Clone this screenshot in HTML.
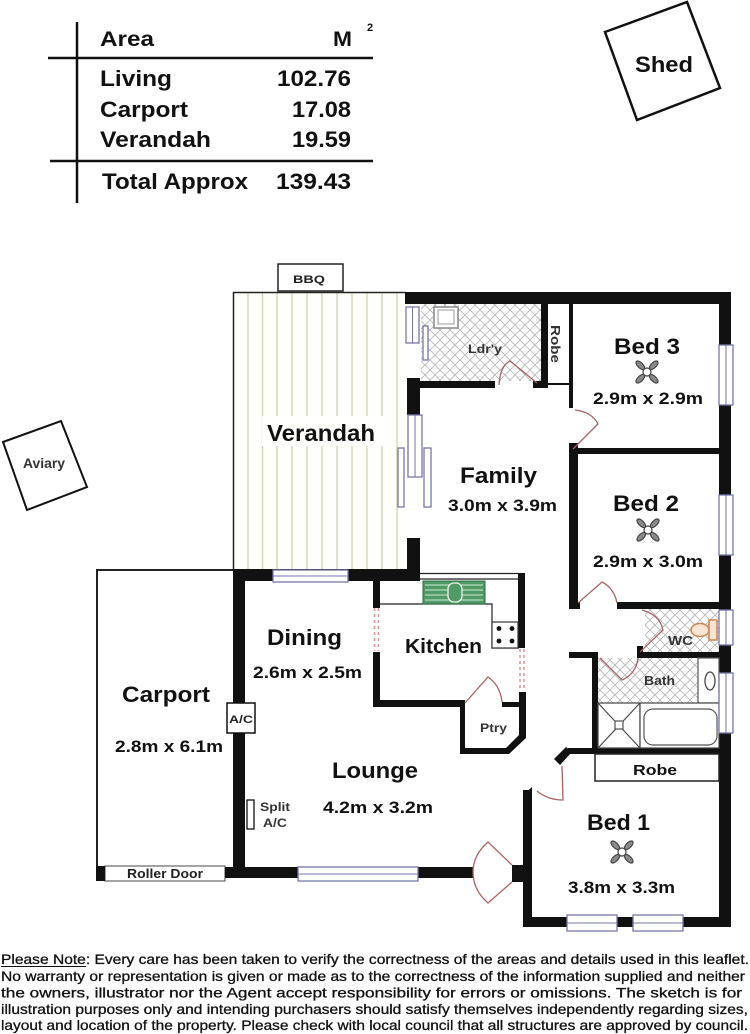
<!DOCTYPE html>
<html>
<head>
<meta charset="utf-8">
<style>
html,body{margin:0;padding:0;background:#fff;}
svg{display:block;}
</style>
</head>
<body>
<svg width="750" height="1034" viewBox="0 0 750 1034" xmlns="http://www.w3.org/2000/svg" font-family="'Liberation Sans', Arial, sans-serif">
<defs>
  <pattern id="hatch" width="10" height="10" patternUnits="userSpaceOnUse">
    <rect width="10" height="10" fill="#fff"/>
    <path d="M0,0 L10,10 M10,0 L0,10" stroke="#b8b8b8" stroke-width="0.9"/>
  </pattern>
  <g id="fan">
    <g fill="#8a8a8a" stroke="#444" stroke-width="1.2">
      <ellipse cx="9.5" cy="0" rx="5.5" ry="2.6" transform="rotate(45)"/>
      <ellipse cx="9.5" cy="0" rx="5.5" ry="2.6" transform="rotate(135)"/>
      <ellipse cx="9.5" cy="0" rx="5.5" ry="2.6" transform="rotate(225)"/>
      <ellipse cx="9.5" cy="0" rx="5.5" ry="2.6" transform="rotate(315)"/>
    </g>
    <circle cx="0" cy="0" r="4" fill="#fff" stroke="#444" stroke-width="1.2"/>
  </g>
</defs>
<rect width="750" height="1034" fill="#fff"/>

<!-- ===== Area table ===== -->
<g stroke="#111" stroke-width="2.5">
  <line x1="77" y1="22" x2="77" y2="203"/>
  <line x1="48" y1="58" x2="373" y2="58"/>
  <line x1="50" y1="161" x2="373" y2="161"/>
</g>
<g font-weight="bold" font-size="22" fill="#111">
  <text x="100" y="46" font-size="21" textLength="54" lengthAdjust="spacingAndGlyphs">Area</text>
  <text x="333" y="46" font-size="21" textLength="19" lengthAdjust="spacingAndGlyphs">M</text>
  <text x="367" y="31" font-size="11">2</text>
  <text x="100" y="86" textLength="72" lengthAdjust="spacingAndGlyphs">Living</text>
  <text x="277" y="86" textLength="74" lengthAdjust="spacingAndGlyphs">102.76</text>
  <text x="100" y="117" textLength="88" lengthAdjust="spacingAndGlyphs">Carport</text>
  <text x="292" y="117" textLength="59" lengthAdjust="spacingAndGlyphs">17.08</text>
  <text x="100" y="147" textLength="111" lengthAdjust="spacingAndGlyphs">Verandah</text>
  <text x="292" y="147" textLength="59" lengthAdjust="spacingAndGlyphs">19.59</text>
  <text x="102" y="189" textLength="146" lengthAdjust="spacingAndGlyphs">Total Approx</text>
  <text x="276" y="189" textLength="75" lengthAdjust="spacingAndGlyphs">139.43</text>
</g>

<!-- ===== Shed ===== -->
<polygon points="605,32 687,2 720,88 637,120" fill="#fff" stroke="#111" stroke-width="2.5"/>
<text x="635" y="72" font-size="22" font-weight="bold" fill="#111" textLength="58" lengthAdjust="spacingAndGlyphs">Shed</text>

<!-- ===== Aviary ===== -->
<polygon points="3,442 61,421 87,487 27,510" fill="#fff" stroke="#111" stroke-width="2"/>
<text x="23" y="468" font-size="13.5" font-weight="bold" fill="#333" textLength="42" lengthAdjust="spacingAndGlyphs">Aviary</text>

<!-- ===== Verandah ===== -->
<rect x="233" y="292" width="174" height="277" fill="#fffffc"/>
<g stroke="#d3d1b6" stroke-width="1.3">
  <line x1="248" y1="293" x2="248" y2="569"/>
  <line x1="262.5" y1="293" x2="262.5" y2="569"/>
  <line x1="277" y1="293" x2="277" y2="569"/>
  <line x1="292" y1="293" x2="292" y2="569"/>
  <line x1="307" y1="293" x2="307" y2="569"/>
  <line x1="322" y1="293" x2="322" y2="569"/>
  <line x1="337" y1="293" x2="337" y2="569"/>
  <line x1="352" y1="293" x2="352" y2="569"/>
  <line x1="367" y1="293" x2="367" y2="569"/>
  <line x1="382" y1="293" x2="382" y2="569"/>
  <line x1="397" y1="293" x2="397" y2="569"/>
</g>
<rect x="262" y="416" width="122" height="30" fill="#fffffc"/>
<line x1="233" y1="292.5" x2="406" y2="292.5" stroke="#222" stroke-width="1.5"/>
<line x1="233.5" y1="292" x2="233.5" y2="570" stroke="#222" stroke-width="1.5"/>

<!-- BBQ -->
<rect x="278" y="264" width="65" height="27" fill="#fff" stroke="#222" stroke-width="1.5"/>
<text x="293" y="283" font-size="11" font-weight="bold" fill="#222" textLength="32" lengthAdjust="spacingAndGlyphs">BBQ</text>

<!-- ===== Carport ===== -->
<line x1="97" y1="570" x2="234" y2="570" stroke="#222" stroke-width="2"/>
<line x1="97" y1="569" x2="97" y2="867" stroke="#222" stroke-width="2"/>
<rect x="105" y="866" width="120" height="15" fill="#fff" stroke="#666" stroke-width="1.2"/>
<text x="127" y="878" font-size="12.5" font-weight="bold" fill="#222" textLength="76" lengthAdjust="spacingAndGlyphs">Roller Door</text>

<!-- ===== Crosshatch floors ===== -->
<rect x="421" y="304" width="120" height="77" fill="url(#hatch)"/>
<rect x="645" y="609" width="74" height="43" fill="url(#hatch)"/>
<rect x="598" y="658" width="100" height="45" fill="url(#hatch)"/>

<!-- ===== Walls ===== -->
<g fill="#111">
  <rect x="405" y="292" width="326" height="12"/>
  <rect x="719" y="292" width="12" height="635"/>
  <rect x="523" y="917" width="208" height="10"/>
  <rect x="523" y="790" width="9" height="137"/>
  <polygon points="523,795 532,787 532,796 523,800"/>
  <rect x="512" y="865" width="20" height="17"/>
  <rect x="225" y="867" width="248" height="11"/>
  <rect x="96" y="866" width="9" height="15"/>
  <rect x="233" y="570" width="12" height="308"/>
  <rect x="233" y="569" width="187" height="12"/>
  <rect x="407" y="538" width="13" height="43"/>
  <rect x="407" y="378" width="13" height="37"/>
  <rect x="419" y="381" width="76" height="7"/>
  <rect x="533" y="381" width="15" height="7"/>
  <rect x="541" y="304" width="7" height="84"/>
  <rect x="569" y="304" width="4" height="104"/>
  <rect x="548" y="383" width="22" height="2"/>
  <rect x="569" y="448" width="162" height="6"/>
  <rect x="569" y="443" width="9" height="166"/>
  <rect x="617" y="602" width="114" height="7"/>
  <rect x="569" y="602" width="11" height="7"/>
  <rect x="637" y="652" width="94" height="6"/>
  <rect x="637" y="646" width="6" height="12"/>
  <rect x="569" y="652" width="29" height="6"/>
  <rect x="592" y="652" width="6" height="100"/>
  <rect x="568" y="748" width="163" height="6"/>
  <polygon points="554,759 566,747 572,752 560,765"/>
  <rect x="518" y="573" width="7" height="75"/>
  <path d="M519,692 L526,692 L526,738 L509,754 L460,754 L460,748 L506,748 L519,735 Z"/>
  <rect x="460" y="702" width="5" height="52"/>
  <rect x="502" y="702" width="24" height="5"/>
  <rect x="373" y="700" width="92" height="7"/>
  <rect x="373" y="581" width="7" height="27"/>
  <rect x="373" y="652" width="7" height="55"/>
</g>

<!-- ===== Kitchen details ===== -->
<g stroke="#222" stroke-width="1.2" fill="none">
  <line x1="420" y1="573.5" x2="519" y2="573.5"/>
  <line x1="420" y1="579" x2="519" y2="579"/>
  <path d="M380,604 L492,604 L492,648 L519,648"/>
</g>
<rect x="423" y="581" width="62" height="23" fill="#4f9a66" stroke="#2f6a44" stroke-width="1"/>
<g stroke="#cfe8d4" stroke-width="1">
  <line x1="425" y1="585" x2="483" y2="585"/>
  <line x1="425" y1="590" x2="483" y2="590"/>
  <line x1="425" y1="595" x2="483" y2="595"/>
  <line x1="425" y1="600" x2="483" y2="600"/>
</g>
<rect x="448" y="583" width="14" height="19" rx="6" fill="#4f9a66" stroke="#eaf6ec" stroke-width="1.3"/>
<rect x="492" y="622" width="26" height="26" fill="#fff" stroke="#333" stroke-width="1.2"/>
<g fill="#111">
  <circle cx="499" cy="628.5" r="2.4"/>
  <circle cx="512" cy="628.5" r="2.4"/>
  <circle cx="499" cy="641" r="2.4"/>
  <circle cx="512" cy="641" r="2.4"/>
</g>
<g stroke="#dd9a9a" stroke-width="1.6" stroke-dasharray="3,3">
  <line x1="374.5" y1="608" x2="374.5" y2="651"/>
  <line x1="378.5" y1="608" x2="378.5" y2="651"/>
  <line x1="520" y1="649" x2="520" y2="691"/>
  <line x1="524" y1="649" x2="524" y2="691"/>
</g>

<!-- ===== Laundry tub ===== -->
<rect x="434" y="307" width="24" height="21" fill="#fff" stroke="#888" stroke-width="1.5"/>
<rect x="438" y="310" width="16" height="14" fill="#fff" stroke="#999" stroke-width="1"/>

<!-- ===== WC / Bath fixtures ===== -->
<ellipse cx="700" cy="630" rx="9" ry="6.5" fill="#f7e4d2" stroke="#c98a5a" stroke-width="1.6"/>
<rect x="709" y="620" width="8" height="20" fill="#f7e4d2" stroke="#c98a5a" stroke-width="1.6"/>
<rect x="698" y="658" width="21" height="45" fill="#fff" stroke="#555" stroke-width="1.2"/>
<ellipse cx="710" cy="681" rx="5" ry="9" fill="#fff" stroke="#444" stroke-width="1.3"/>
<rect x="598" y="703" width="42" height="45" fill="#fff" stroke="#444" stroke-width="1.2"/>
<path d="M598,703 L640,748 M640,703 L598,748" stroke="#444" stroke-width="1.1"/>
<rect x="615" y="721" width="8" height="8" fill="#fff" stroke="#444" stroke-width="1.1"/>
<rect x="640" y="703" width="79" height="45" fill="#fff" stroke="#444" stroke-width="1.2"/>
<rect x="644" y="709" width="73" height="36" rx="9" fill="#fff" stroke="#555" stroke-width="1.2"/>

<!-- Robe (bed 1) -->
<rect x="595" y="754" width="124" height="27" fill="#fff" stroke="#222" stroke-width="1.5"/>

<!-- ===== Windows ===== -->
<g fill="#fff" stroke="#7676a8" stroke-width="1.3">
  <rect x="273" y="570" width="75" height="12"/>
  <rect x="298" y="867" width="120" height="14"/>
  <rect x="567" y="915" width="50" height="16"/>
  <rect x="633" y="915" width="50" height="16"/>
  <rect x="719" y="345" width="14" height="60"/>
  <rect x="719" y="495" width="14" height="60"/>
  <rect x="719" y="610" width="14" height="35"/>
  <rect x="719" y="673" width="14" height="60"/>
  <rect x="406" y="307" width="13" height="36"/>
  <rect x="423" y="326" width="5" height="34"/>
  <rect x="408" y="415" width="14" height="62"/>
  <rect x="398" y="448" width="6" height="59"/>
  <rect x="424" y="448" width="7" height="59"/>
</g>
<g stroke="#7676a8" stroke-width="1">
  <line x1="273" y1="576" x2="348" y2="576"/>
  <line x1="298" y1="874" x2="418" y2="874"/>
  <line x1="567" y1="923" x2="617" y2="923"/>
  <line x1="633" y1="923" x2="683" y2="923"/>
  <line x1="726" y1="345" x2="726" y2="405"/>
  <line x1="726" y1="495" x2="726" y2="555"/>
  <line x1="726" y1="610" x2="726" y2="645"/>
  <line x1="726" y1="673" x2="726" y2="733"/>
  <line x1="412.5" y1="307" x2="412.5" y2="343"/>
  <line x1="415" y1="415" x2="415" y2="477"/>
</g>

<!-- A/C boxes -->
<rect x="227" y="703" width="28" height="30" fill="#fff" stroke="#111" stroke-width="1.5"/>
<text x="229" y="723" font-size="11" font-weight="bold" fill="#222" textLength="24" lengthAdjust="spacingAndGlyphs">A/C</text>
<rect x="247" y="800" width="7" height="29" fill="#fff" stroke="#111" stroke-width="1.3"/>

<!-- ===== Doors ===== -->
<g fill="none" stroke="#a86464" stroke-width="1.3">
  <path d="M499,385 Q500,366 510,361 L537,383"/>
  <path d="M575,410 Q592,412 598,424 L573,449"/>
  <path d="M578,603 L602,582 Q614,588 617,603"/>
  <path d="M642,610 Q660,615 663,630 L640,652"/>
  <path d="M600,658 L622,680 Q636,674 638,658"/>
  <path d="M465,703 L488,677 Q500,685 502,702"/>
  <path d="M562,766 L563,800 Q548,800 537,791"/>
  <path d="M512,865 L488,842 Q473,855 473,872 Q473,890 488,903 L512,882"/>
</g>

<!-- ===== Fans ===== -->
<use href="#fan" x="647" y="372"/>
<use href="#fan" x="648" y="530"/>
<use href="#fan" x="622" y="852"/>

<!-- ===== Room labels ===== -->
<g font-weight="bold" fill="#111">
  <text x="267" y="441" font-size="23" textLength="108" lengthAdjust="spacingAndGlyphs">Verandah</text>
  <text x="460" y="483" font-size="22" textLength="77" lengthAdjust="spacingAndGlyphs">Family</text>
  <text x="448" y="511" font-size="16.5" textLength="109" lengthAdjust="spacingAndGlyphs">3.0m x 3.9m</text>
  <text x="614" y="354" font-size="22" textLength="66" lengthAdjust="spacingAndGlyphs">Bed 3</text>
  <text x="593" y="404" font-size="16.5" textLength="110" lengthAdjust="spacingAndGlyphs">2.9m x 2.9m</text>
  <text x="613" y="511" font-size="22" textLength="66" lengthAdjust="spacingAndGlyphs">Bed 2</text>
  <text x="593" y="567" font-size="16.5" textLength="110" lengthAdjust="spacingAndGlyphs">2.9m x 3.0m</text>
  <text x="405" y="653" font-size="20" textLength="77" lengthAdjust="spacingAndGlyphs">Kitchen</text>
  <text x="587" y="830" font-size="22" textLength="63" lengthAdjust="spacingAndGlyphs">Bed 1</text>
  <text x="568" y="893" font-size="16.5" textLength="107" lengthAdjust="spacingAndGlyphs">3.8m x 3.3m</text>
  <text x="267" y="645" font-size="22" textLength="75" lengthAdjust="spacingAndGlyphs">Dining</text>
  <text x="253" y="678" font-size="16.5" textLength="109" lengthAdjust="spacingAndGlyphs">2.6m x 2.5m</text>
  <text x="122" y="702" font-size="22" textLength="88" lengthAdjust="spacingAndGlyphs">Carport</text>
  <text x="115" y="752" font-size="16.5" textLength="108" lengthAdjust="spacingAndGlyphs">2.8m x 6.1m</text>
  <text x="332" y="778" font-size="22" textLength="86" lengthAdjust="spacingAndGlyphs">Lounge</text>
  <text x="323" y="813" font-size="16.5" textLength="110" lengthAdjust="spacingAndGlyphs">4.2m x 3.2m</text>
  <text x="633" y="775" font-size="15" textLength="44" lengthAdjust="spacingAndGlyphs">Robe</text>
</g>
<g font-weight="bold" fill="#333">
  <text x="480" y="732" font-size="12" textLength="27" lengthAdjust="spacingAndGlyphs">Ptry</text>
  <text x="668" y="645" font-size="13" textLength="25" lengthAdjust="spacingAndGlyphs">WC</text>
  <text x="644" y="685" font-size="13" textLength="31" lengthAdjust="spacingAndGlyphs">Bath</text>
  <text x="468" y="353" font-size="12" textLength="34" lengthAdjust="spacingAndGlyphs">Ldr'y</text>
  <text x="260" y="811" font-size="12" textLength="30" lengthAdjust="spacingAndGlyphs">Split</text>
  <text x="263" y="827" font-size="12" textLength="24" lengthAdjust="spacingAndGlyphs">A/C</text>
  <text transform="translate(551,325) rotate(90)" font-size="13" textLength="38" lengthAdjust="spacingAndGlyphs">Robe</text>
</g>

<!-- ===== Disclaimer ===== -->
<g font-size="14" fill="#111" stroke="#111" stroke-width="0.3">
  <text x="1" y="964" textLength="748" lengthAdjust="spacingAndGlyphs">Please Note: Every care has  been  taken to verify  the correctness of the areas and   details used in  this leaflet.</text>
  <text x="1" y="981" textLength="744" lengthAdjust="spacingAndGlyphs">No warranty  or representation  is given or made as to the correctness of the information supplied  and neither</text>
  <text x="1" y="997.5" textLength="741" lengthAdjust="spacingAndGlyphs">the  owners,  illustrator  nor  the  Agent  accept  responsibility  for  errors  or  omissions.  The  sketch  is  for</text>
  <text x="1" y="1014" textLength="747" lengthAdjust="spacingAndGlyphs">illustration purposes only and intending purchasers should satisfy themselves independently  regarding sizes,</text>
  <text x="1" y="1030" textLength="747" lengthAdjust="spacingAndGlyphs">layout and location of the property.  Please check with local council that all structures are approved by council.</text>
</g>
<line x1="1" y1="966.5" x2="86" y2="966.5" stroke="#111" stroke-width="1.1"/>
</svg>
</body>
</html>
